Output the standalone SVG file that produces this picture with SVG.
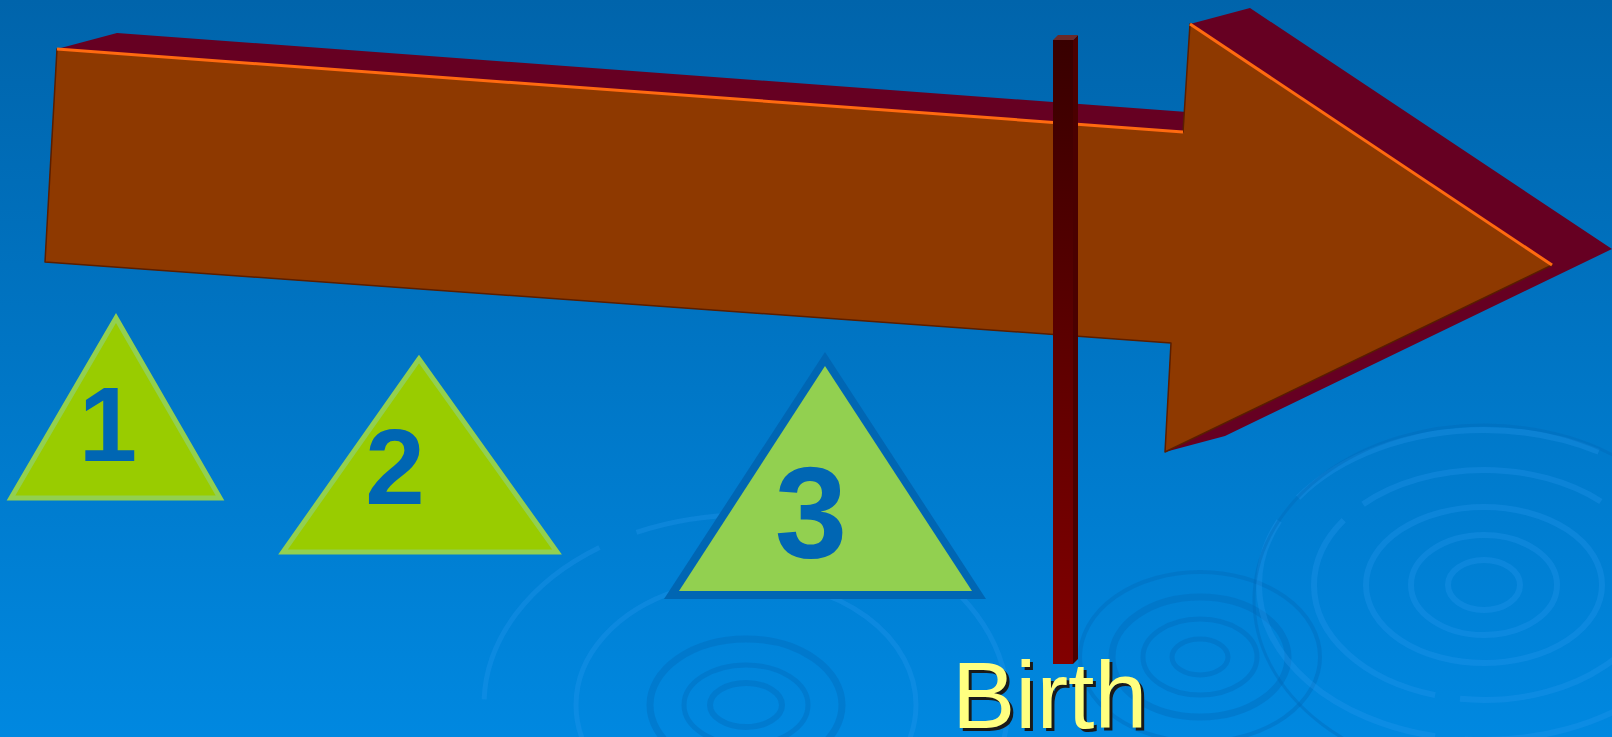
<svg xmlns="http://www.w3.org/2000/svg" width="1612" height="737" viewBox="0 0 1612 737">
<defs>
<linearGradient id="bg" x1="0" y1="0" x2="0" y2="1">
<stop offset="0" stop-color="#0064ab"/>
<stop offset="1" stop-color="#0088e0"/>
</linearGradient>
<linearGradient id="pole" x1="0" y1="0" x2="0" y2="1">
<stop offset="0" stop-color="#380000"/>
<stop offset="1" stop-color="#820000"/>
</linearGradient>
<style>
.rl{fill:none;stroke:#2a9cf0;stroke-opacity:0.28}
.rd{fill:none;stroke:#0068b8;stroke-opacity:0.38}
.digit{font-family:"Liberation Sans",Arial,sans-serif;font-weight:bold;fill:#0066b3;text-anchor:middle}
.tri12{fill:#99cc00;stroke:#92d050;stroke-width:5;stroke-linejoin:miter}
.lbl{font-family:"Liberation Sans",Arial,sans-serif;font-size:95px}
</style>
</defs>
<rect width="1612" height="737" fill="url(#bg)"/>
<g id="ripples">
<ellipse class="rd" cx="746" cy="705" rx="36" ry="22" stroke-width="6"/>
<ellipse class="rd" cx="746" cy="705" rx="62" ry="40" stroke-width="5"/>
<ellipse class="rd" cx="746" cy="705" rx="96" ry="66" stroke-width="7"/>
<ellipse class="rl" cx="746" cy="705" rx="170" ry="125" stroke-width="5" stroke-dasharray="300 30"/>
<ellipse class="rl" cx="746" cy="705" rx="262" ry="190" stroke-width="5" stroke-dasharray="200 40"/>
<ellipse class="rd" cx="1200" cy="657" rx="28" ry="18" stroke-width="5"/>
<ellipse class="rd" cx="1200" cy="657" rx="57" ry="38" stroke-width="5"/>
<ellipse class="rd" cx="1200" cy="657" rx="88" ry="60" stroke-width="7"/>
<ellipse class="rd" cx="1200" cy="657" rx="120" ry="85" stroke-width="4"/>
<ellipse class="rl" cx="1484" cy="585" rx="36" ry="25" stroke-width="6"/>
<ellipse class="rl" cx="1484" cy="585" rx="73" ry="50" stroke-width="6"/>
<ellipse class="rl" cx="1484" cy="585" rx="118" ry="78" stroke-width="6"/>
<ellipse class="rl" cx="1484" cy="585" rx="170" ry="115" stroke-width="6" stroke-dasharray="250 25"/>
<ellipse class="rl" cx="1484" cy="585" rx="225" ry="155" stroke-width="6" stroke-dasharray="320 30"/>
<ellipse class="rd" cx="1484" cy="600" rx="230" ry="175" stroke-width="3"/>
</g>
<g id="arrow">
<polygon points="57,49 117,33 1187,112 1190,24 1250,8 1612,249 1225,436 1165,452 1171,343 45,262" fill="#660022"/>
<polygon points="57,49 1183,132 1190,24 1552,265 1165,452 1171,343 45,262" fill="#8e3900" stroke="#5a1e00" stroke-width="1.5" stroke-linejoin="round"/>
<line x1="57" y1="49" x2="1183" y2="132" stroke="#ff6a10" stroke-width="3"/>
<line x1="1190" y1="24" x2="1552" y2="265" stroke="#ff6a10" stroke-width="3"/>
</g>
<g id="pole-node">
<rect x="1053" y="40" width="20" height="624" fill="url(#pole)"/>
<polygon points="1073,40 1078,35 1078,659 1073,664" fill="#4a0000"/>
<polygon points="1053,40 1058,35 1078,35 1073,40" fill="#6a2a2a"/>
</g>
<g id="node1">
<polygon class="tri12" points="116,318 11,498 220,498"/>
<text class="digit" x="108" y="461" font-size="105">1</text>
</g>
<g id="node2">
<polygon class="tri12" points="419,359 283,552 557,552"/>
<text class="digit" x="395" y="504" font-size="107">2</text>
</g>
<g id="node3">
<polygon points="825,352 664,599 986,599" fill="#0066b3"/>
<polygon points="825,366 679,591 972,591" fill="#92d050"/>
<text class="digit" x="811" y="558" font-size="130">3</text>
</g>
<g id="birth">
<text class="lbl" x="955" y="731" fill="#1a1a1a">Birth</text>
<text class="lbl" x="952" y="728" fill="#ffff80">Birth</text>
</g>
</svg>
